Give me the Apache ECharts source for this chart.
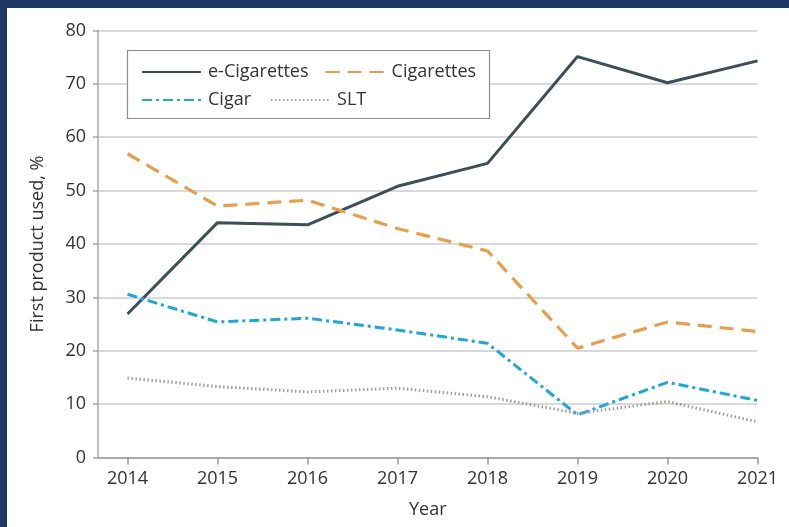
<!DOCTYPE html>
<html>
<head>
<meta charset="utf-8">
<script src="https://cdn.jsdelivr.net/npm/echarts@6/dist/echarts.min.js"></script>
<style>
  html, body { margin: 0; padding: 0; background: #1f3763; }
  #frame { position: absolute; left: 0; top: 0; width: 789px; height: 527px; background: #1f3763; overflow: hidden; }
  #chart { position: absolute; left: 7px; top: 8px; width: 782px; height: 519px; background: #fff; }
</style>
</head>
<body>
<div id="frame"><div id="chart"></div></div>
<script>
// years on the x axis
var years = [2014, 2015, 2016, 2017, 2018, 2019, 2020, 2021];
// first product used, %
var eCigarettes = [26.9, 44.0, 43.6, 50.8, 55.1, 75.1, 70.2, 74.3];
var cigarettes  = [56.9, 47.1, 48.2, 42.9, 38.7, 20.5, 25.4, 23.6];
var cigar       = [30.6, 25.4, 26.1, 23.9, 21.4, 8.0, 14.1, 10.7];
var slt         = [14.9, 13.3, 12.3, 13.0, 11.4, 8.3, 10.5, 6.7];

function pairs(vals) {
  return years.map(function (y, i) { return [y, vals[i]]; });
}

var font = '"Open Sans", "Liberation Sans", sans-serif';
var txt = '#333333';
var fs = 18;

var myChart = echarts.init(document.getElementById('chart'));

var option = {
  animation: false,
  backgroundColor: '#fff',
  grid: { left: 91, right: 31.5, top: 22.4, bottom: 69.4, containLabel: false },
  xAxis: {
    type: 'value',
    min: 2013.672,
    max: 2021,
    name: 'Year',
    nameLocation: 'middle',
    nameGap: 43,
    nameTextStyle: { fontFamily: font, fontSize: fs, color: txt },
    axisLine: { show: true, lineStyle: { color: '#9a9a9a', width: 1.5 } },
    axisTick: { show: true, length: 7, customValues: years, lineStyle: { color: '#9a9a9a', width: 1.5 } },
    axisLabel: {
      customValues: years,
      margin: 12,
      fontFamily: font, fontSize: fs, color: txt,
      formatter: function (v) { return String(Math.round(v)); }
    },
    splitLine: { show: false }
  },
  yAxis: {
    type: 'value',
    min: 0,
    max: 80,
    interval: 10,
    name: 'First product used, %',
    nameLocation: 'middle',
    nameGap: 51,
    nameTextStyle: { fontFamily: font, fontSize: fs, color: txt },
    axisLine: { show: true, lineStyle: { color: '#a8a8a8', width: 1.5 } },
    axisTick: { show: true, length: 5, lineStyle: { color: '#a8a8a8', width: 1.5 } },
    axisLabel: { margin: 12, fontFamily: font, fontSize: fs, color: txt },
    splitLine: { show: true, lineStyle: { color: '#d9d9d9', width: 2 } }
  },
  graphic: [{
    type: 'rect',
    z: 3,
    shape: { x: 120.5, y: 42.5, width: 362, height: 68 },
    style: { fill: '#fff', stroke: '#8c8c8c', lineWidth: 1.2 }
  }],
  legend: [{
    data: ['e-Cigarettes', 'Cigarettes'],
    left: 134, top: 55, padding: 0,
    itemWidth: 59, itemHeight: 12, itemGap: 16,
    itemStyle: { opacity: 0 },
    z: 10,
    textStyle: { fontFamily: font, fontSize: fs, color: txt, padding: [0, 0, 0, 2] }
  }, {
    data: ['Cigar', 'SLT'],
    left: 134, top: 83, padding: 0,
    itemWidth: 59, itemHeight: 12, itemGap: 19,
    itemStyle: { opacity: 0 },
    z: 10,
    textStyle: { fontFamily: font, fontSize: fs, color: txt, padding: [0, 0, 0, 2] }
  }],
  series: [{
    name: 'e-Cigarettes', type: 'line', data: pairs(eCigarettes),
    symbol: 'none', color: '#3c4e57',
    lineStyle: { color: '#3c4e57', width: 3 }
  }, {
    name: 'Cigarettes', type: 'line', data: pairs(cigarettes),
    symbol: 'none', color: '#e89f4d',
    lineStyle: { color: '#e89f4d', width: 3.2, type: [14, 8] }
  }, {
    name: 'Cigar', type: 'line', data: pairs(cigar),
    symbol: 'none', color: '#1fa6dd',
    lineStyle: { color: '#1fa6dd', width: 3, type: [10, 4, 3, 4] }
  }, {
    name: 'SLT', type: 'line', data: pairs(slt),
    symbol: 'none', color: '#a39d97',
    lineStyle: { color: '#a39d97', width: 3, type: [1.5, 2.5] }
  }]
};

myChart.setOption(option);
</script>
</body>
</html>
